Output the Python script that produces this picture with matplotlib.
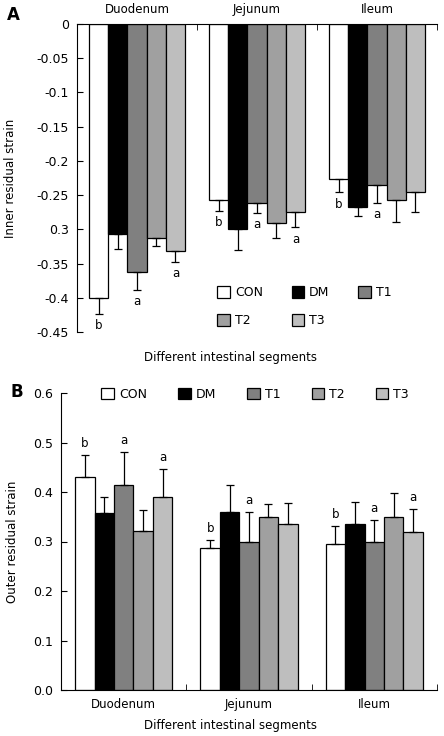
import numpy as np
import matplotlib
matplotlib.use("Agg")
import matplotlib.pyplot as plt
from matplotlib.patches import Patch

plt.rcParams["font.family"] = ["DejaVu Sans"]
plt.rcParams["font.size"] = 8

segments = ["Duodenum", "Jejunum", "Ileum"]
groups = ["CON", "DM", "T1", "T2", "T3"]
colors = ["#ffffff", "#000000", "#808080", "#a0a0a0", "#bebebe"]

# panel A: inner residual strain (negative), error drawn downward
inner_mean = {
    "CON": [-0.400, -0.257, -0.227],
    "DM":  [-0.307, -0.299, -0.267],
    "T1":  [-0.363, -0.261, -0.235],
    "T2":  [-0.312, -0.291, -0.257],
    "T3":  [-0.332, -0.274, -0.245],
}
inner_err = {
    "CON": [0.023, 0.016, 0.019],
    "DM":  [0.022, 0.031, 0.014],
    "T1":  [0.025, 0.015, 0.026],
    "T2":  [0.012, 0.022, 0.032],
    "T3":  [0.015, 0.023, 0.030],
}
inner_sig = {
    "CON": ["b", "b", "b"],
    "T1":  ["a", "a", "a"],
    "T3":  ["a", "a", ""],
}
inner_ticks = [0, -0.05, -0.1, -0.15, -0.2, -0.25, -0.3, -0.35, -0.4, -0.45]
inner_ticklabels = ["0", "-0.05", "-0.1", "-0.15", "-0.2", "-0.25", "0.3",
                    "-0.35", "-0.4", "-0.45"]

# panel B: outer residual strain, error drawn upward
outer_mean = {
    "CON": [0.431, 0.286, 0.295],
    "DM":  [0.357, 0.359, 0.335],
    "T1":  [0.415, 0.299, 0.299],
    "T2":  [0.321, 0.350, 0.350],
    "T3":  [0.390, 0.335, 0.320],
}
outer_err = {
    "CON": [0.043, 0.018, 0.037],
    "DM":  [0.033, 0.056, 0.045],
    "T1":  [0.066, 0.060, 0.045],
    "T2":  [0.042, 0.026, 0.048],
    "T3":  [0.057, 0.043, 0.045],
}
outer_sig = {
    "CON": ["b", "b", "b"],
    "T1":  ["a", "a", "a"],
    "T3":  ["a", "", "a"],
}

W, H = 444, 736
fig = plt.figure(figsize=(W / 100, H / 100), dpi=100)


def px_axes(l, t, r, b):
    return fig.add_axes([l / W, 1 - b / H, (r - l) / W, (b - t) / H])


x = np.arange(len(segments))

# ---------- panel A ----------
axA = px_axes(77, 24, 437, 332)
width = 0.16
for i, g in enumerate(groups):
    pos = x + (i - 2) * width
    m = np.array(inner_mean[g])
    e = np.array(inner_err[g])
    axA.bar(pos, m, width, color=colors[i], edgecolor="black", linewidth=0.9,
            zorder=2)
    axA.errorbar(pos, m, yerr=[e, np.zeros_like(e)], fmt="none",
                 ecolor="black", elinewidth=0.9, capsize=3, capthick=0.9,
                 zorder=3)
    for k, s in enumerate(inner_sig.get(g, [])):
        if s:
            axA.text(pos[k], m[k] - e[k] - 0.008, s, ha="center", va="top",
                     fontsize=8.5)

axA.set_xlim(-0.5, 2.5)
axA.set_ylim(-0.45, 0)
axA.set_yticks(inner_ticks)
axA.set_yticklabels(inner_ticklabels)
axA.xaxis.tick_top()
axA.set_xticks(x)
axA.set_xticklabels(segments)
axA.set_xticks([0.5, 1.5, 2.5], minor=True)
axA.tick_params(axis="x", which="major", length=0, pad=6, labelsize=8.5)
axA.tick_params(axis="x", which="minor", direction="in", length=4, top=True)
axA.tick_params(axis="y", direction="in", length=4, labelsize=9, pad=6)
axA.spines["right"].set_visible(False)
axA.spines["bottom"].set_visible(False)
axA.set_ylabel("Inner residual strain", fontsize=8.5, labelpad=14)
fig.text(230 / W, 1 - 357 / H, "Different intestinal segments",
         ha="center", va="center", fontsize=8.5)
fig.text(13 / W, 1 - 15 / H, "A", fontsize=12, fontweight="bold",
         ha="center", va="center")

handles = [Patch(facecolor=c, edgecolor="black", linewidth=0.9) for c in colors]
# legend fills by column, so reorder to read CON DM T1 / T2 T3 by row
orderA = [0, 3, 1, 4, 2]
axA.legend([handles[j] for j in orderA], [groups[j] for j in orderA],
           ncol=3, loc="upper left",
           bbox_to_anchor=(206 / W, 1 - 275 / H), bbox_transform=fig.transFigure,
           frameon=False, handlelength=1.0, handleheight=1.0,
           handletextpad=0.4, columnspacing=2.3, labelspacing=1.2,
           fontsize=9)

# ---------- panel B ----------
axB = px_axes(61, 393, 437, 690)
width = 0.155
for i, g in enumerate(groups):
    pos = x + (i - 2) * width
    m = np.array(outer_mean[g])
    e = np.array(outer_err[g])
    axB.bar(pos, m, width, color=colors[i], edgecolor="black", linewidth=0.9,
            zorder=2)
    axB.errorbar(pos, m, yerr=[np.zeros_like(e), e], fmt="none",
                 ecolor="black", elinewidth=0.9, capsize=3, capthick=0.9,
                 zorder=3)
    for k, s in enumerate(outer_sig.get(g, [])):
        if s:
            axB.text(pos[k], m[k] + e[k] + 0.01, s, ha="center", va="bottom",
                     fontsize=8.5)

axB.set_xlim(-0.5, 2.5)
axB.set_ylim(0, 0.6)
axB.set_yticks(np.arange(0, 0.61, 0.1))
axB.set_yticklabels([f"{v:.1f}" for v in np.arange(0, 0.61, 0.1)])
axB.set_xticks(x)
axB.set_xticklabels(segments)
axB.set_xticks([0.5, 1.5, 2.5], minor=True)
axB.tick_params(axis="x", which="major", length=0, pad=6, labelsize=8.5)
axB.tick_params(axis="x", which="minor", direction="in", length=4)
axB.tick_params(axis="y", direction="in", length=4, labelsize=9, pad=6)
axB.spines["right"].set_visible(False)
axB.spines["top"].set_visible(False)
axB.set_ylabel("Outer residual strain", fontsize=8.5, labelpad=10)
fig.text(230 / W, 1 - 725 / H, "Different intestinal segments",
         ha="center", va="center", fontsize=8.5)
fig.text(17 / W, 1 - 392 / H, "B", fontsize=12, fontweight="bold",
         ha="center", va="center")

axB.legend(handles, groups, ncol=5, loc="center left",
           bbox_to_anchor=(90 / W, 1 - 394 / H), bbox_transform=fig.transFigure,
           frameon=False, handlelength=1.0, handleheight=1.0,
           handletextpad=0.4, columnspacing=2.5, fontsize=9)

fig.savefig("out.png", dpi=100)
